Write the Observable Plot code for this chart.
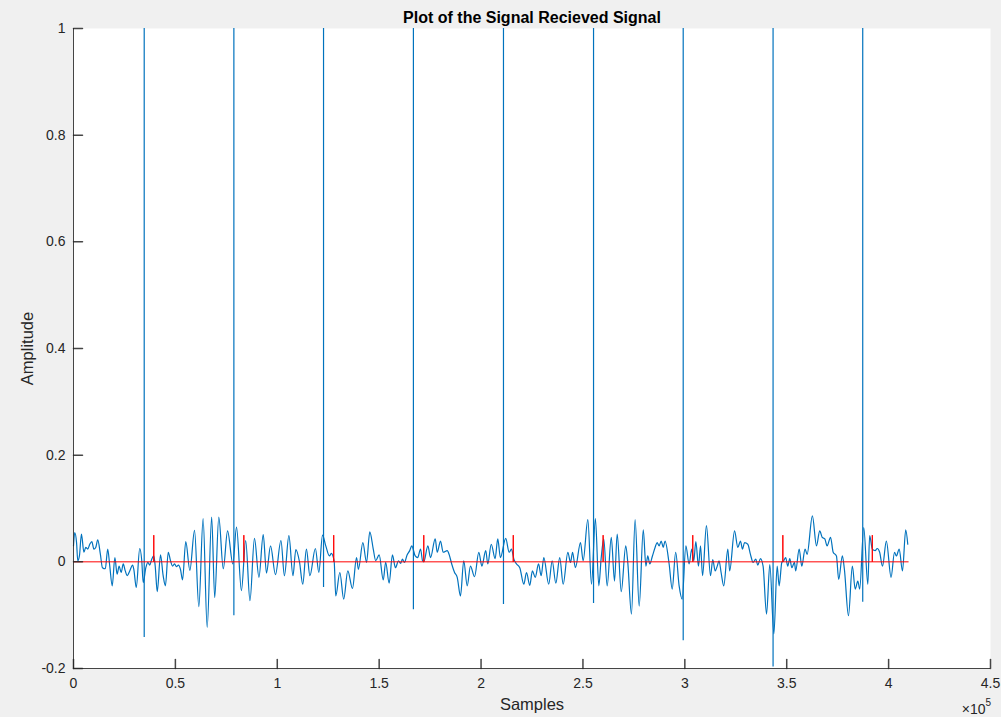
<!DOCTYPE html>
<html><head><meta charset="utf-8">
<script src="https://cdn.jsdelivr.net/npm/d3@7"></script>
<script src="https://cdn.jsdelivr.net/npm/@observablehq/plot@0.6"></script>
<style>html,body{margin:0;padding:0;background:#f0f0f0;overflow:hidden}</style>
</head><body><div id="chart"></div>
<script>
// received signal: sample position (thousands of samples) and amplitude
const sigK = [0,0.6,1.5,2.1,2.9,3.9,5.1,6.0,7.0,8.0,9.0,10.0,10.9,11.9,13.2,14.2,15.6,16.8,17.8,19.0,20.3,21.4,22.4,23.4,24.4,25.4,26.4,27.6,29.0,29.6,30.8,32.5,33.5,34.2,
35.5,36.5,37.4,38.4,39.4,40.1,41.1,42.7,44.0,45.1,46.5,47.6,48.6,49.6,50.5,51.5,52.5,53.5,55.1,57.1,59.4,61.5,63.6,65.6,67.8,69.3,71.3,73.5,75.6,78.2,
80.0,82.4,84.5,86.6,88.8,91.0,93.1,94.7,96.7,99.1,101.8,103.5,105.7,107.7,109.1,110.9,112.5,114.3,116.0,118.7,120.4,122.2,
123.8,125.6,126.5,127.9,128.7,130.7,132.6,134.6,136.9,138.9,139.8,142.0,143.8,145.4,147.1,148.3,150.0,152.0,153.2,154.9,156.5,158.0,159.5,160.5,161.4,162.4,163.7,165.0,166.0,
167.7,168.9,170.3,171.3,171.9,173.9,175.2,177.5,178.5,180.1,181.4,183.4,184.4,185.6,187.0,188.3,189.9,191.5,193.2,194.8,196.8,198.9,200.4,202.3,203.3,205.0,206.9,208.2,209.5,
212.1,213.8,214.9,216.1,217.4,219.0,221.0,222.3,223.9,225.2,226.6,228.2,229.5,230.8,233.2,234.9,236.7,238.6,240.3,242.6,243.9,244.9,246.3,248.8,250.1,252.4,254.2,
256.1,257.8,258.9,260.2,261.9,263.9,265.5,266.8,268.8,271.0,272.0,273.8,275.6,277.6,279.6,280.9,281.8,282.8,284.1,285.4,286.4,287.4,288.4,289.4,290.3,292.3,293.8,295.5,297.2,298.7,
300.5,302.1,303.4,304.4,305.4,306.7,307.7,308.7,310.6,312.6,313.7,314.9,315.9,316.8,317.8,319.1,321.1,322.0,324.4,326.0,327.3,328.3,329.3,330.9,332.2,333.5,334.8,335.8,337.1,338.4,340.1,341.7,
343.7,345.3,346.3,347.6,348.5,349.5,350.5,351.5,352.5,353.8,354.4,356.1,357.4,359.0,360.0,362.6,364.6,366.2,367.4,368.7,369.8,371.5,372.8,374.4,375.5,377.3,378.3,380.3,382.2,383.6,384.9,385.8,
387.8,389.8,390.7,392.0,393.4,394.4,395.6,397.0,398.9,401.2,402.9,403.8,405.2,406.8,408.4,409.4];
const sigA = [0.030,0.055,0.036,0.002,0.011,0.052,0.018,0.027,0.024,0.033,0.038,0.024,0.027,0.041,0.014,-0.011,-0.013,0.024,-0.008,-0.045,0.008,-0.023,-0.008,-0.020,-0.004,-0.017,-0.026,-0.017,-0.006,-0.014,-0.048,0.025,0.002,-0.039,
-0.011,-0.001,-0.006,0.005,0.011,-0.008,-0.056,0.013,-0.026,-0.045,0.018,0.002,-0.008,-0.004,-0.009,-0.006,-0.014,-0.034,0.038,-0.016,0.059,-0.084,0.081,-0.123,0.084,-0.067,0.084,-0.013,0.058,-0.004,
0.065,-0.054,0.040,-0.073,0.044,-0.029,0.051,-0.021,0.030,-0.024,0.040,-0.026,0.049,-0.026,0.023,0.000,-0.042,0.024,-0.026,0.025,-0.020,0.050,
0.030,0.011,0.016,0.002,-0.064,-0.020,-0.070,-0.017,-0.050,0.008,-0.014,0.036,-0.001,0.056,0.024,0.002,0.013,-0.034,-0.001,-0.040,0.013,-0.011,0.002,-0.003,0.005,-0.001,0.013,0.021,0.030,
0.011,0.008,0.024,0.002,0.000,0.030,0.008,0.043,0.018,0.039,0.018,0.021,0.013,-0.004,-0.020,-0.029,-0.064,0.002,-0.045,-0.008,-0.028,0.018,-0.008,0.021,-0.004,0.033,0.006,0.043,0.008,
0.044,0.018,0.024,0.005,-0.004,-0.011,-0.042,-0.020,-0.044,-0.017,-0.029,-0.004,-0.026,0.008,-0.042,0.002,-0.040,0.008,-0.042,0.018,-0.001,0.018,-0.011,0.036,0.002,0.079,-0.042,
0.081,-0.045,0.005,0.043,-0.045,0.046,-0.036,0.052,-0.056,0.030,-0.001,-0.098,0.079,-0.083,0.060,-0.008,0.011,-0.004,0.011,0.027,0.036,0.030,0.039,0.027,0.039,-0.004,-0.051,0.018,-0.045,-0.070,
0.030,-0.004,0.024,0.002,0.038,-0.008,0.030,-0.026,0.068,-0.026,0.004,-0.017,-0.008,0.002,-0.020,-0.045,0.024,-0.017,0.058,0.027,0.039,0.024,0.036,0.033,0.014,-0.001,0.005,-0.006,0.006,-0.008,-0.098,-0.005,
-0.135,-0.008,-0.045,-0.001,0.002,0.008,-0.008,0.006,-0.011,-0.001,-0.017,0.024,-0.008,0.024,0.014,0.086,0.030,0.058,0.046,0.043,0.030,0.046,0.018,0.011,-0.033,0.011,-0.014,-0.101,-0.008,-0.051,-0.036,-0.051,
0.064,-0.042,0.049,0.024,0.021,0.025,0.018,-0.008,0.039,-0.029,0.018,0.011,0.024,-0.017,0.060,0.033];

// impulses in the received signal (thousands of samples), peak and lowest value
const spikeK = [34.7,78.7,122.7,166.8,211.0,255.2,299.2,343.3,387.3];
const spikePeak = 1;
const spikeLow = [-0.142,-0.101,-0.048,-0.090,-0.080,-0.078,-0.148,-0.197,-0.076];

// detected markers (red stems) and the red baseline end
const stemK = [39.4,83.6,127.7,171.9,215.8,259.9,303.9,348.1,392.0];
const stemH = 0.05;
const redEndK = 409.6;

const xTicks = [0,50000,100000,150000,200000,250000,300000,350000,400000,450000];
const xTickLabels = ["0","0.5","1","1.5","2","2.5","3","3.5","4","4.5"];
const yTicks = [-0.2,0,0.2,0.4,0.6,0.8,1];
const yTickLabels = ["-0.2","0","0.2","0.4","0.6","0.8","1"];

const titleText = "Plot of the Signal Recieved Signal";
const xLabel = "Samples";
const yLabel = "Amplitude";

// build series
const blue = sigK.map((k, i) => ({x: k * 1000, y: sigA[i]}));
const spikes = spikeK.map((k, i) => ({x: k * 1000, y1: spikeLow[i], y2: spikePeak}));
const red = [{x: 0, y: 0}];
for (const s of stemK) red.push({x: s * 1000, y: 0}, {x: s * 1000, y: stemH}, {x: s * 1000, y: 0});
red.push({x: redEndK * 1000, y: 0});

const tickShape = {draw(ctx, l) { ctx.moveTo(0, 0); ctx.lineTo(0, -l); }};
const axisColor = "#262626";
const font = "'Liberation Sans', Arial, Helvetica, sans-serif";

const chart = Plot.plot({
  width: 1001, height: 717,
  marginLeft: 73, marginRight: 11, marginTop: 28, marginBottom: 49,
  style: {background: "#f0f0f0", fontFamily: font, color: axisColor, overflow: "visible"},
  x: {domain: [0, 450000]},
  y: {domain: [-0.2, 1]},
  marks: [
    Plot.frame({fill: "white", stroke: null}),
    Plot.line(blue, {x: "x", y: "y", stroke: "#0072BD", strokeWidth: 1.2, curve: "monotone-x"}),
    Plot.ruleX(spikes, {x: "x", y1: "y1", y2: "y2", stroke: "#0072BD", strokeWidth: 1.2}),
    Plot.line(red, {x: "x", y: "y", stroke: "#FF0000", strokeWidth: 1}),
    Plot.ruleX([0], {stroke: axisColor, strokeOpacity: 0.85}),
    Plot.ruleY([-0.2], {stroke: axisColor, strokeOpacity: 0.85}),
    Plot.vector(xTicks, {x: d => d, frameAnchor: "bottom", length: 9, rotate: 0, anchor: "start", shape: tickShape, stroke: axisColor, strokeOpacity: 0.85}),
    Plot.vector(yTicks, {y: d => d, frameAnchor: "left", length: 9, rotate: 90, anchor: "start", shape: tickShape, stroke: axisColor, strokeOpacity: 0.85}),
    Plot.axisX({ticks: xTicks, tickSize: 0, tickPadding: 10, tickFormat: d => xTickLabels[xTicks.indexOf(d)], fontSize: 14, label: null}),
    Plot.axisY({ticks: yTicks, tickSize: 0, tickPadding: 8, tickFormat: d => yTickLabels[yTicks.indexOf(d)], fontSize: 14, label: null}),
    Plot.text([titleText], {frameAnchor: "top", dy: -11, lineAnchor: "middle", fontSize: 16, fontWeight: "bold", fill: "#000"}),
    Plot.text([xLabel], {frameAnchor: "bottom", dy: 36, lineAnchor: "middle", fontSize: 16.5, fill: axisColor}),
    Plot.text([yLabel], {frameAnchor: "left", dx: -46, rotate: -90, textAnchor: "middle", lineAnchor: "middle", fontSize: 16.5, fill: axisColor}),
    Plot.text(["×10"], {frameAnchor: "bottom-right", dx: -5, dy: 41, textAnchor: "end", lineAnchor: "middle", fontSize: 14, fill: axisColor}),
    Plot.text(["5"], {frameAnchor: "bottom-right", dx: -5, dy: 34, textAnchor: "start", lineAnchor: "middle", fontSize: 10, fill: axisColor})
  ]
});
document.getElementById("chart").appendChild(chart);
</script>
</body></html>
